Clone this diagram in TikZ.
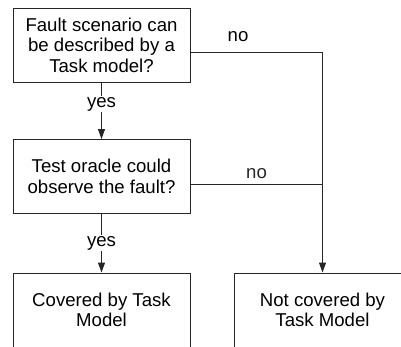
\documentclass[tikz,border=0pt]{standalone}
\usepackage{fontspec}
\setmainfont{Liberation Sans}
\usepackage{tikz}
\usetikzlibrary{arrows.meta,positioning}
\definecolor{Ink}{HTML}{262626}
\tikzset{
  flow/.style={
    draw=Ink,line width=1pt,fill=white,
    minimum width=177pt,minimum height=74pt,inner sep=0pt,
    align=center,font=\fontsize{18.6}{20.5}\selectfont,text=black
  },
  arrow/.style={-{Triangle[length=10pt,width=7pt]},line width=1pt,draw=Ink},
  tag/.style={font=\fontsize{18.6}{20.5}\selectfont,fill=white,inner sep=1pt}
}
\begin{document}
\begin{tikzpicture}[x=1pt,y=-1pt]
  \useasboundingbox (0,0) rectangle (401,346);
  \clip (0,0) rectangle (401,346);
  % boxes
  \node[flow] (task) at (101.5,45) {Fault scenario can\\be described by a\\Task model?};
  \node[flow] (oracle) at (101.5,176.5) {Test oracle could\\observe the fault?};
  \node[flow] (covered) at (101.5,310) {Covered by Task\\Model};
  \node[flow] (notcovered) at (322.5,310) {Not covered by\\Task Model};
  % connectors
  \draw[arrow] (task) -- (oracle) node[tag,pos=.38]{yes};
  \draw[arrow] (oracle) -- (covered) node[tag,midway]{yes};
  \draw[arrow] ([yshift=-7pt]task.east) -| (notcovered.north)
    node[font=\fontsize{18.6}{20.5}\selectfont,pos=.18,above=6pt]{no};
  \draw[Ink,line width=1pt] ([yshift=-7.5pt]oracle.east) -- ([yshift=-7.5pt]oracle.east -| notcovered.north)
    node[font=\fontsize{18.6}{20.5}\selectfont,midway,above=1pt]{no};
\end{tikzpicture}
\end{document}
